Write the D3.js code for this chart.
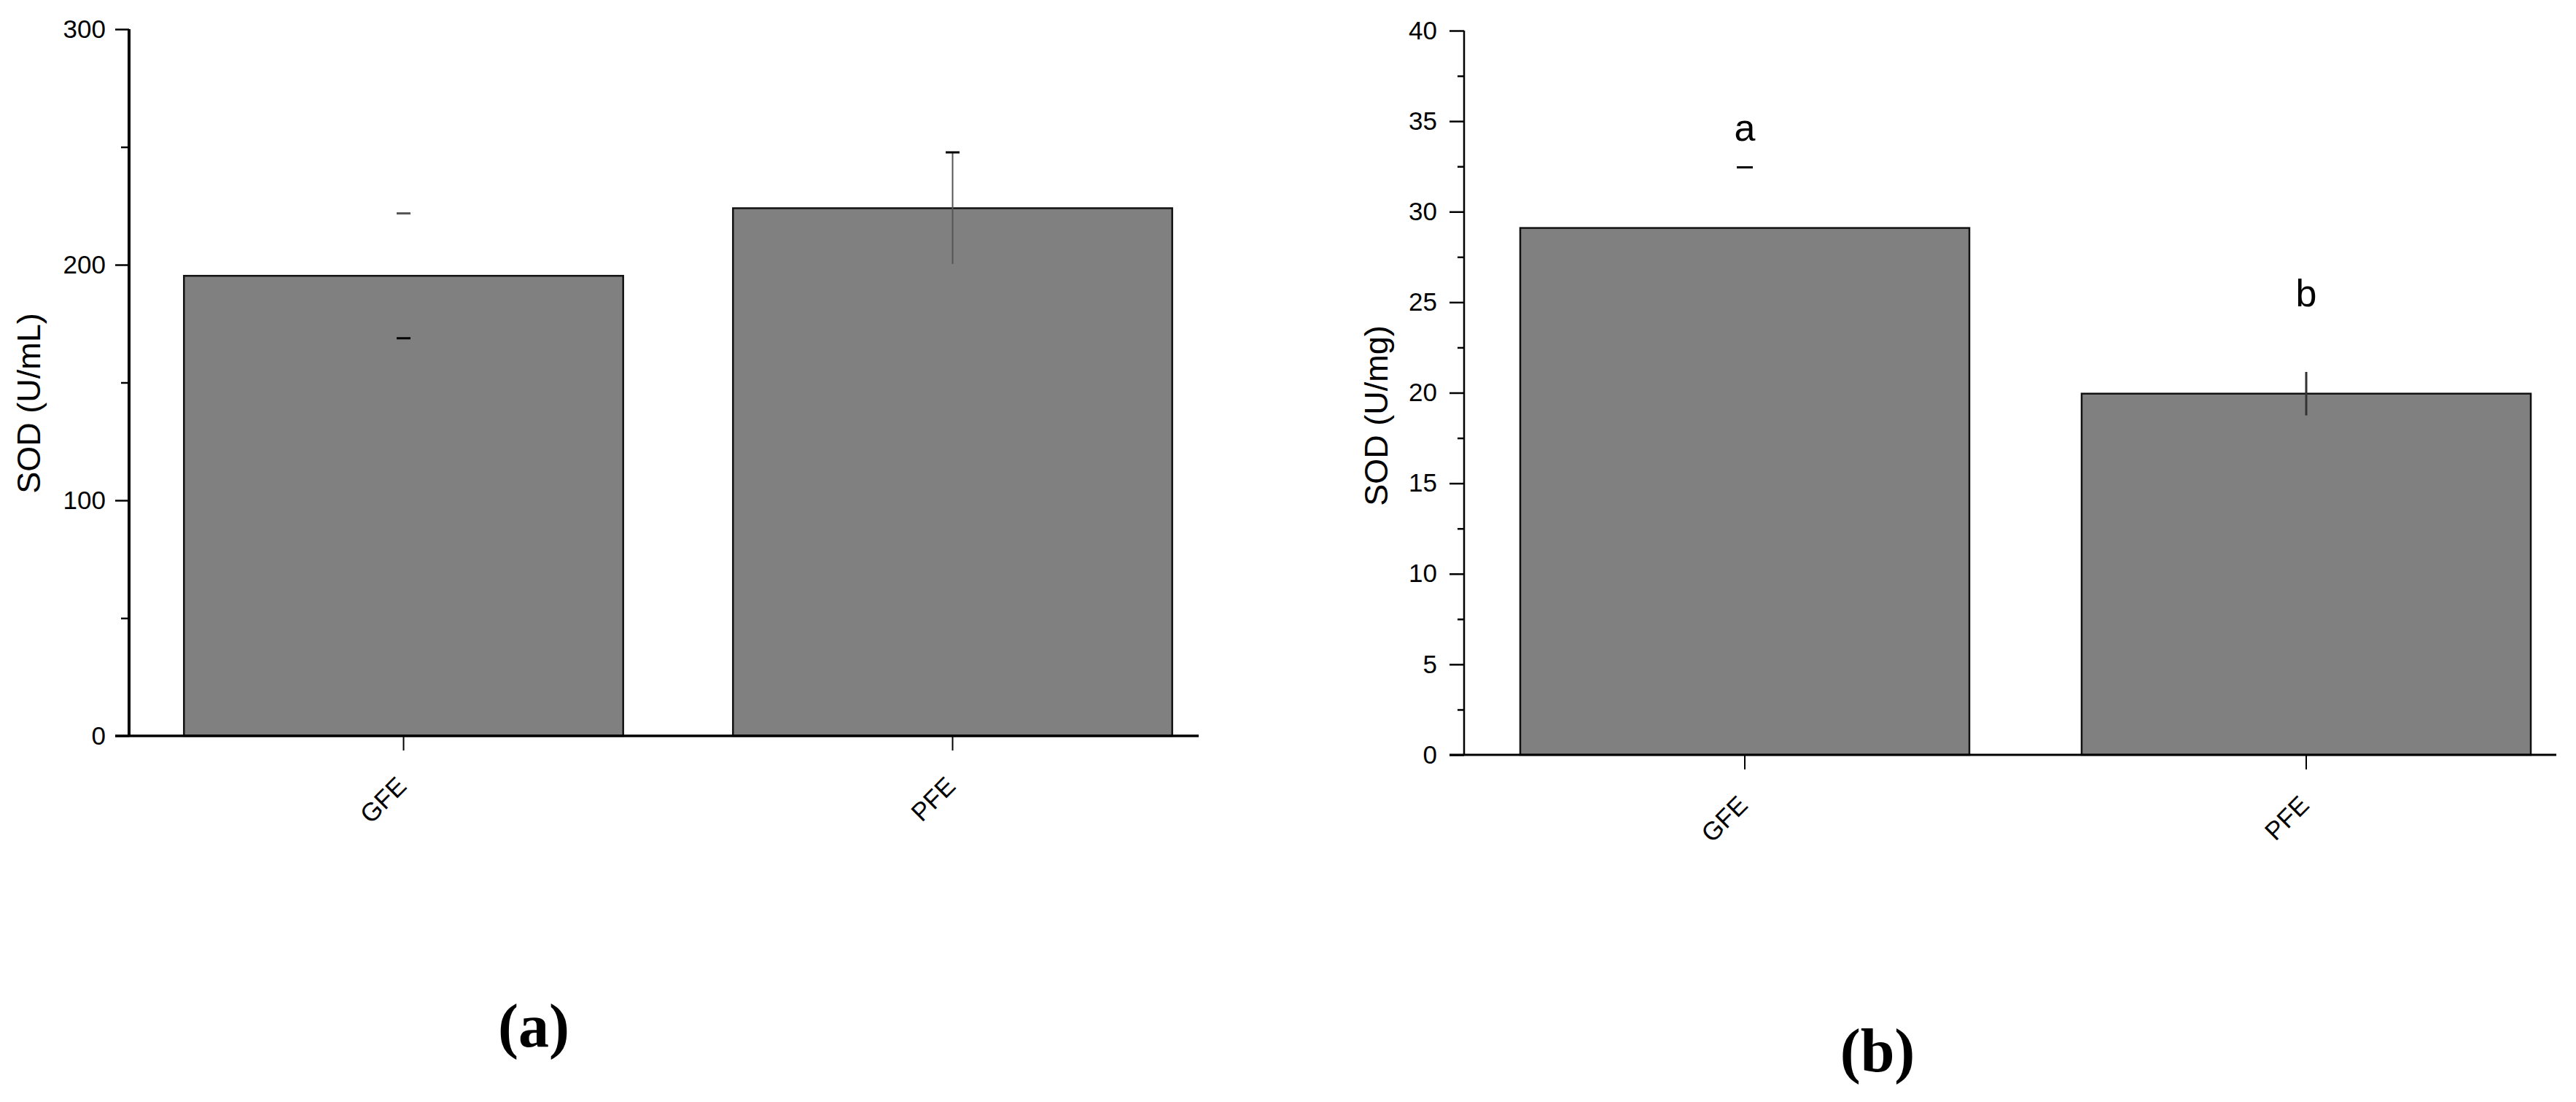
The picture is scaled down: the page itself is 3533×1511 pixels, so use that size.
<!DOCTYPE html>
<html>
<head>
<meta charset="utf-8">
<script src="https://cdn.jsdelivr.net/npm/d3@7"></script>
<style>
  body { margin: 0; background: #fff; }
  svg text { font-family: "Liberation Sans", Arial, sans-serif; }
</style>
</head>
<body>
<svg id="fig"></svg>
<script>
// data
var groups = ["GFE", "PFE"]

// (a) plasma SOD, U/mL
var sodPlasma = [195.3, 224.0]
var sodPlasmaSd = [26.5, 23.7]
var plasmaTicks = [0, 100, 200, 300]
var plasmaMinor = [50, 150, 250]

// (b) tissue SOD, U/mg
var sodTissue = [29.1, 19.95]
var sodTissueSd = [3.35, 1.2]
var tissueLetters = ["a", "b"]
var tissueTicks = [0, 5, 10, 15, 20, 25, 30, 35, 40]
var tissueMinor = [2.5, 7.5, 12.5, 17.5, 22.5, 27.5, 32.5, 37.5]

var width = 3533, height = 1511
var svg = d3.select("#fig")
    .attr("width", width)
    .attr("height", height)

svg.append("rect")
    .attr("width", width)
    .attr("height", height)
    .attr("fill", "#fff")

function drawPanel(p) {
    var g = svg.append("g")

    var y = d3.scaleLinear()
        .domain([0, p.ymax])
        .range([p.bottom, p.top])

    var x = d3.scaleBand()
        .domain(groups)
        .range([p.left, p.right])
        .paddingInner(0.2)
        .paddingOuter(0.1)

    // bars
    g.selectAll("rect.bar")
        .data(p.values)
        .enter()
        .append("rect")
            .attr("class", "bar")
            .attr("x", function (d, i) { return x(groups[i]) })
            .attr("y", function (d) { return y(d) })
            .attr("width", x.bandwidth())
            .attr("height", function (d) { return y(0) - y(d) })
            .attr("fill", "#808080")
            .attr("stroke", "#111")
            .attr("stroke-width", 2.5)

    // error bars, only the parts that show in the original
    p.values.forEach(function (d, i) {
        var cx = x(groups[i]) + x.bandwidth() / 2
        var hi = y(d + p.sd[i]), lo = y(d - p.sd[i])
        var parts = p.errParts[i]
        if (parts.indexOf("stem") >= 0) {
            g.append("line")
                .attr("x1", cx).attr("x2", cx)
                .attr("y1", hi).attr("y2", lo)
                .attr("stroke", p.stemColor)
                .attr("stroke-width", p.stemWidth)
        }
        if (parts.indexOf("capHi") >= 0) {
            g.append("line")
                .attr("x1", cx - p.capW / 2).attr("x2", cx + p.capW / 2)
                .attr("y1", hi).attr("y2", hi)
                .attr("stroke", i == 0 && p.greyTopCap ? "#555" : "#000")
                .attr("stroke-width", 3)
        }
        if (parts.indexOf("capLo") >= 0) {
            g.append("line")
                .attr("x1", cx - p.capW / 2).attr("x2", cx + p.capW / 2)
                .attr("y1", lo).attr("y2", lo)
                .attr("stroke", "#000")
                .attr("stroke-width", 3)
        }
    })

    // significance letters
    if (p.letters) {
        g.selectAll("text.sig")
            .data(p.values)
            .enter()
            .append("text")
                .attr("class", "sig")
                .attr("x", function (d, i) { return x(groups[i]) + x.bandwidth() / 2 })
                .attr("y", function (d) { return y(d) - 120 })
                .attr("text-anchor", "middle")
                .style("font-size", "52px")
                .text(function (d, i) { return p.letters[i] })
    }

    // y axis: minor then major ticks
    var yMinor = g.append("g")
        .attr("transform", "translate(" + p.left + ",0)")
        .call(d3.axisLeft(y).tickValues(p.minor).tickSize(p.minorLen).tickFormat(""))
    yMinor.select(".domain").remove()
    yMinor.selectAll(".tick line").attr("stroke-width", 2.5)

    var yAxis = g.append("g")
        .attr("transform", "translate(" + p.left + ",0)")
        .call(d3.axisLeft(y).tickValues(p.ticks).tickSize(p.majorLen).tickPadding(p.tickPad))
    yAxis.select(".domain").remove()
    yAxis.selectAll(".tick line").attr("stroke-width", 2.5)
    yAxis.selectAll(".tick text")
        .style("font-size", "35px")
        .style("font-family", "'Liberation Sans', Arial, sans-serif")
        .attr("fill", "#000")

    g.append("line")
        .attr("x1", p.left).attr("x2", p.left)
        .attr("y1", y(0) + 1).attr("y2", p.top)
        .attr("stroke", "#000")
        .attr("stroke-width", p.yLineW)

    // x axis
    var xAxis = g.append("g")
        .attr("transform", "translate(0," + y(0) + ")")
        .call(d3.axisBottom(x).tickSize(20).tickPadding(0))
    xAxis.select(".domain").remove()
    xAxis.selectAll(".tick line").attr("stroke-width", 2)
    xAxis.selectAll(".tick text")
        .attr("text-anchor", "end")
        .attr("dy", 0)
        .attr("y", 0)
        .attr("transform", "translate(6,71) rotate(-45)")
        .style("font-size", "35px")
        .style("font-family", "'Liberation Sans', Arial, sans-serif")
        .attr("fill", "#000")

    g.append("line")
        .attr("x1", p.left - p.majorLen).attr("x2", p.axisEnd)
        .attr("y1", y(0)).attr("y2", y(0))
        .attr("stroke", "#000")
        .attr("stroke-width", p.xLineW)

    // y title
    g.append("text")
        .attr("transform", "translate(" + p.titleX + "," + p.titleY + ") rotate(-90)")
        .attr("text-anchor", "middle")
        .style("font-size", "45px")
        .text(p.title)

    // panel caption
    g.append("text")
        .attr("x", p.capX)
        .attr("y", p.capY)
        .attr("text-anchor", "middle")
        .style("font-family", "'Liberation Serif', 'Times New Roman', serif")
        .style("font-size", "84px")
        .style("font-weight", "bold")
        .text(p.caption)
}

drawPanel({
    values: sodPlasma, sd: sodPlasmaSd, ticks: plasmaTicks, minor: plasmaMinor,
    ymax: 300, top: 40, bottom: 1009, left: 177, right: 1683, axisEnd: 1644,
    majorLen: 19, minorLen: 11, tickPad: 13, yLineW: 4, xLineW: 3.5,
    errParts: [["capHi", "capLo"], ["capHi", "stem"]], greyTopCap: true,
    capW: 19, stemColor: "#555", stemWidth: 2,
    title: "SOD (U/mL)", titleX: 55, titleY: 553,
    caption: "(a)", capX: 732, capY: 1435
})

drawPanel({
    values: sodTissue, sd: sodTissueSd, ticks: tissueTicks, minor: tissueMinor,
    letters: tissueLetters,
    ymax: 40, top: 42, bottom: 1035, left: 2008, right: 3548, axisEnd: 3506,
    majorLen: 20, minorLen: 9, tickPad: 17, yLineW: 2.5, xLineW: 3,
    errParts: [["capHi"], ["stem"]], greyTopCap: false,
    capW: 22, stemColor: "#333", stemWidth: 3,
    title: "SOD (U/mg)", titleX: 1903, titleY: 570,
    caption: "(b)", capX: 2575, capY: 1469
})
</script>
</body>
</html>
